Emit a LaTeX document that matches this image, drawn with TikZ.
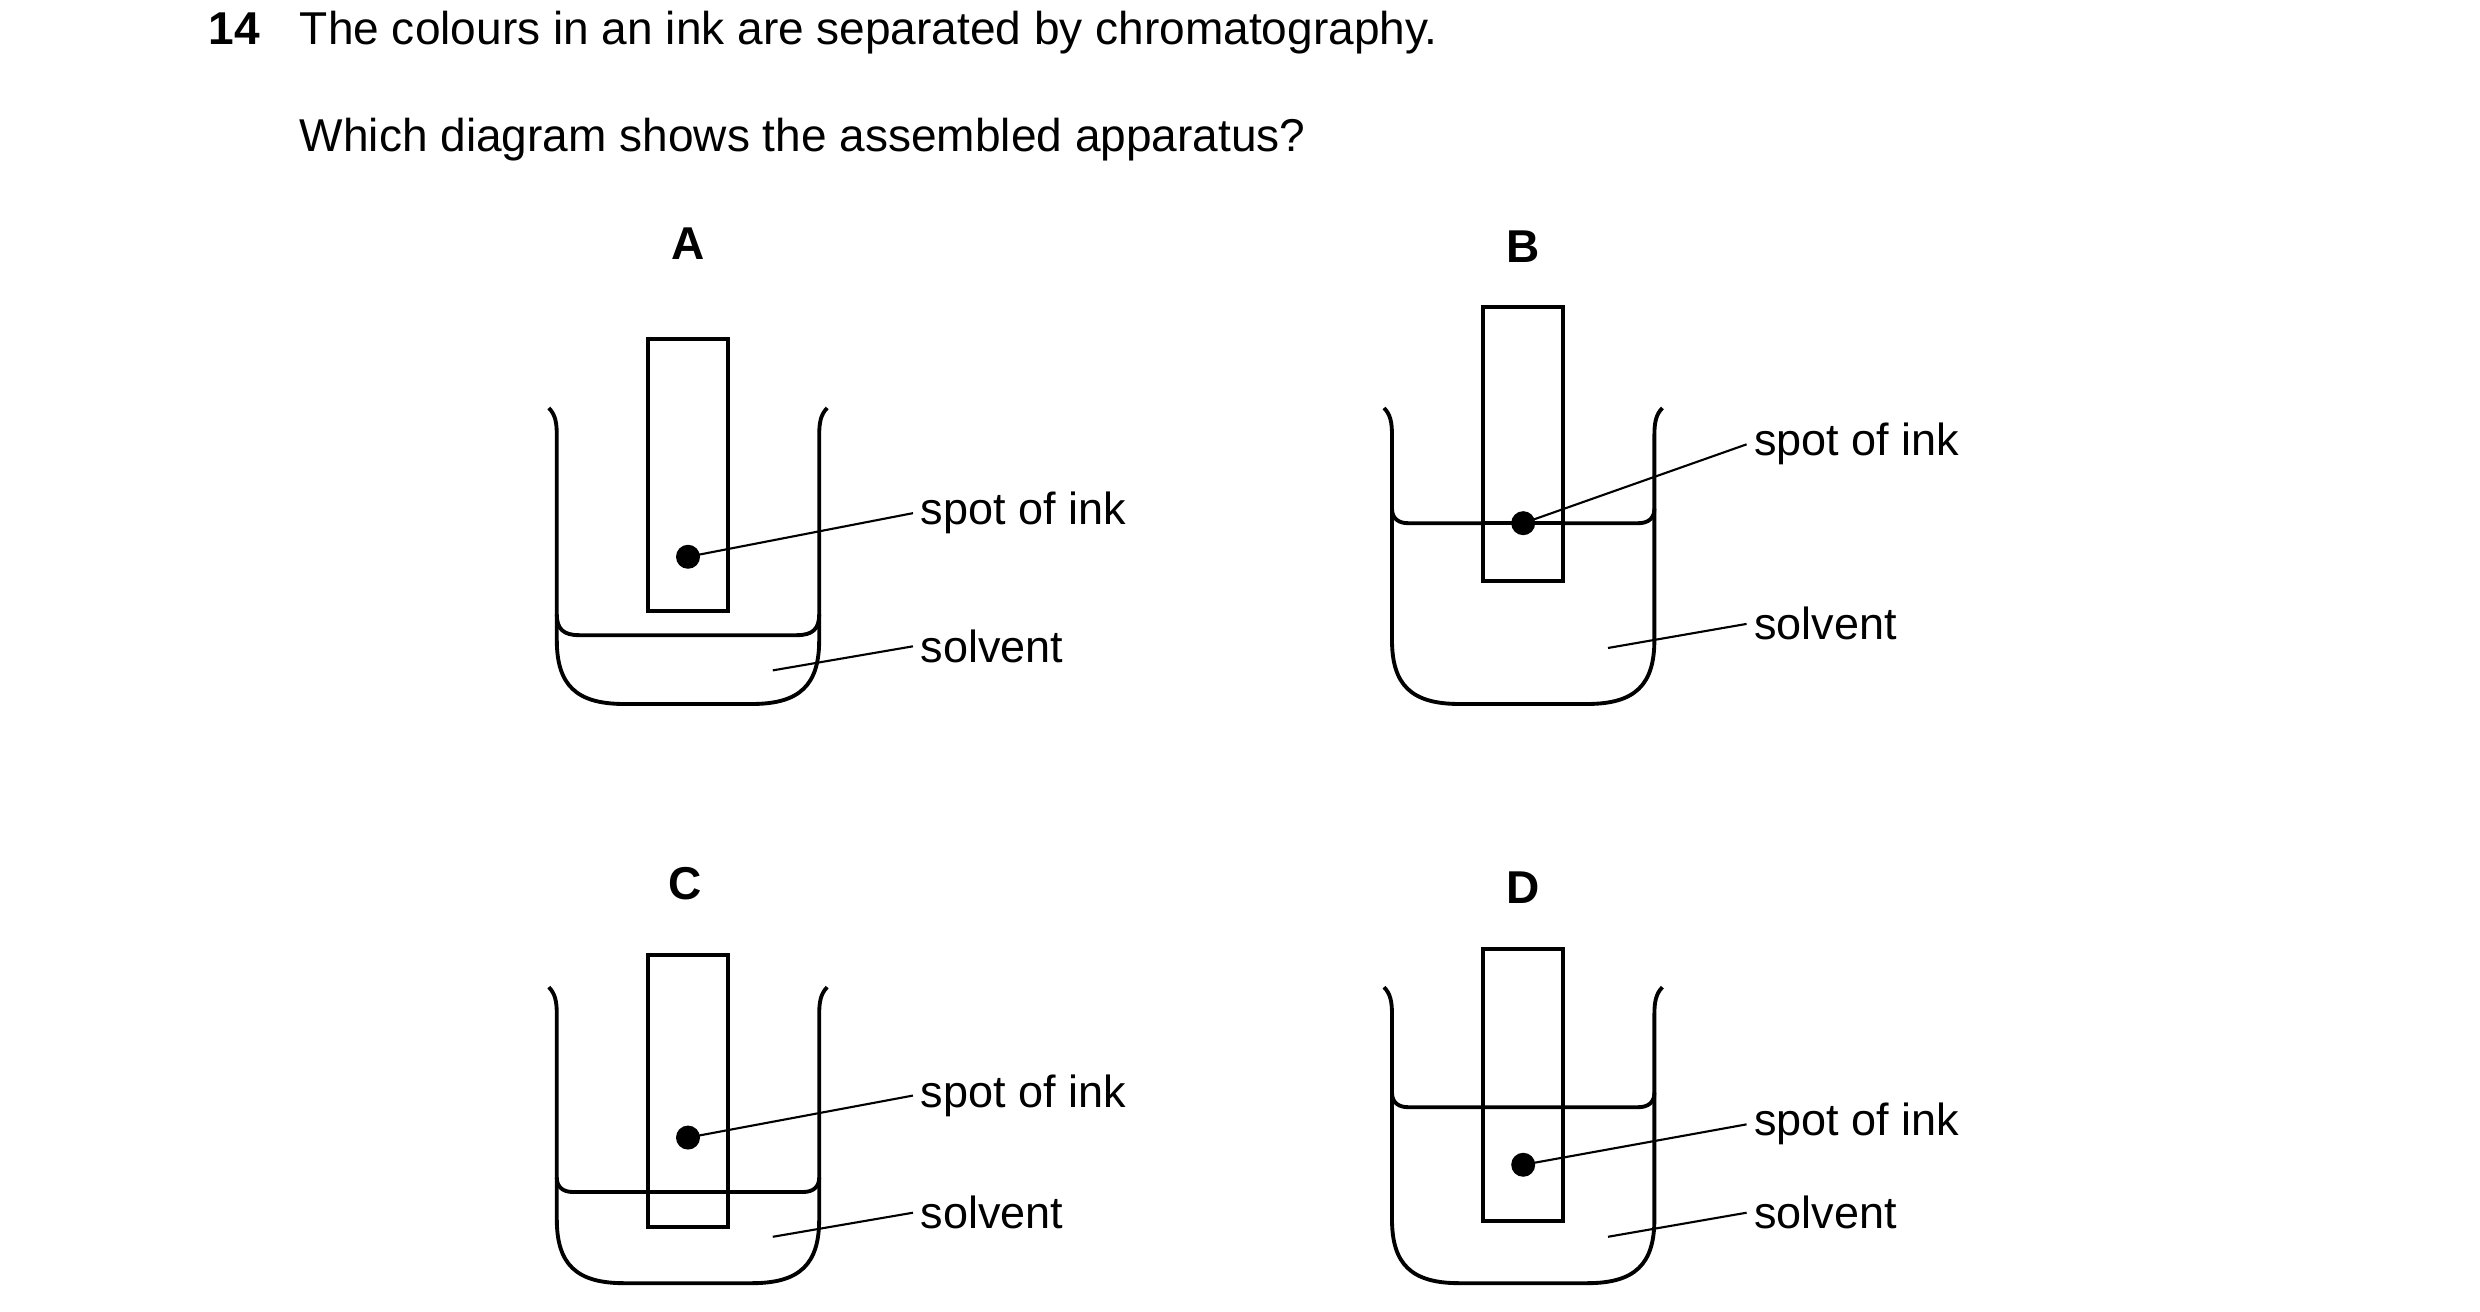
\documentclass[tikz,border=0pt]{standalone}
\usepackage{fontspec}
\setmainfont{Liberation Sans}
\newcommand\mybeaker{%
 \draw[bk] (343,255) .. controls (347,259) and (348,264) .. (348,272) -- (348,400) .. controls (348,428) and (360,440) .. (390,440) -- (470,440) .. controls (500,440) and (512,428) .. (512,400) -- (512,272) .. controls (512,264) and (513,259) .. (517,255);}
\begin{document}
\begin{tikzpicture}[x=0.16mm,y=-0.16mm,
 bk/.style={line width=1.1pt,line join=round},
 strip/.style={line width=1.2pt,draw,fill=white},
 lab/.style={anchor=base west,inner sep=0pt,font=\fontsize{12.8}{15}\selectfont},
 ttl/.style={anchor=base west,inner sep=0pt,font=\fontsize{13.1}{16}\selectfont},
 ldr/.style={line width=0.6pt}]
\useasboundingbox (0,0) rectangle (1550,819.4);
\node[ttl,font=\fontsize{13.1}{16}\selectfont\bfseries] (q) at (130,28) {14};
\node[ttl] (t1) at (187,28) {The colours in an ink are separated by chromatography.};
\node[ttl] (t2) at (187,95) {Which diagram shows the assembled apparatus?};
% A
\node[ttl,anchor=base,font=\fontsize{13.1}{16}\selectfont\bfseries] (la) at (430,162) {A};
\mybeaker
\draw[bk] (348,384) .. controls (348,393) and (352,397) .. (362,397) -- (498,397) .. controls (508,397) and (512,393) .. (512,384);
\draw[strip] (405,212) rectangle (455,382);
\fill (430,348) circle (7.5) coordinate (da);
\node[lab] (sa) at (575,328) {spot of ink};
\node[lab] (va) at (575,414) {solvent};
\draw[ldr] (da) -- ([xshift=-2]sa.west);
\draw[ldr] (483,419) -- ([xshift=-2]va.west);
% B
\begin{scope}[shift={(522,0)}]
\mybeaker
\draw[bk] (348,318) .. controls (348,324) and (352,327) .. (358,327) -- (502,327) .. controls (508,327) and (512,324) .. (512,318);
\draw[strip] (405,192) rectangle (455,363);
\draw[bk] (405,327) -- (455,327);
\fill (430,327) circle (7.5) coordinate (db);
\node[lab] (sb) at (574,285) {spot of ink};
\node[lab] (vb) at (574,400) {solvent};
\draw[ldr] (db) -- ([xshift=-2]sb.west);
\draw[ldr] (483,405) -- ([xshift=-2]vb.west);
\end{scope}
\node[ttl,anchor=base,font=\fontsize{13.1}{16}\selectfont\bfseries] (lb) at (952,164) {B};
% C
\begin{scope}[shift={(0,362)}]
\mybeaker
\draw[bk] (348,374) .. controls (348,380) and (352,383) .. (358,383) -- (502,383) .. controls (508,383) and (512,380) .. (512,374);
\draw[strip,fill=none] (405,235) rectangle (455,405);
\fill (430,349) circle (7.5) coordinate (dc);
\node[lab] (sc) at (575,330) {spot of ink};
\node[lab] (vc) at (575,406) {solvent};
\draw[ldr] (dc) -- ([xshift=-2]sc.west);
\draw[ldr] (483,411) -- ([xshift=-2]vc.west);
\end{scope}
\node[ttl,anchor=base,font=\fontsize{13.1}{16}\selectfont\bfseries] (lc) at (428,562) {C};
% D
\begin{scope}[shift={(522,362)}]
\mybeaker
\draw[bk] (348,321) .. controls (348,327) and (352,330) .. (358,330) -- (502,330) .. controls (508,330) and (512,327) .. (512,321);
\draw[strip,fill=none] (405,231) rectangle (455,401);
\fill (430,366) circle (7.5) coordinate (dd);
\node[lab] (sd) at (574,348) {spot of ink};
\node[lab] (vd) at (574,406) {solvent};
\draw[ldr] (dd) -- ([xshift=-2]sd.west);
\draw[ldr] (483,411) -- ([xshift=-2]vd.west);
\end{scope}
\node[ttl,anchor=base,font=\fontsize{13.1}{16}\selectfont\bfseries] (ld) at (952,565) {D};
\end{tikzpicture}
\end{document}
